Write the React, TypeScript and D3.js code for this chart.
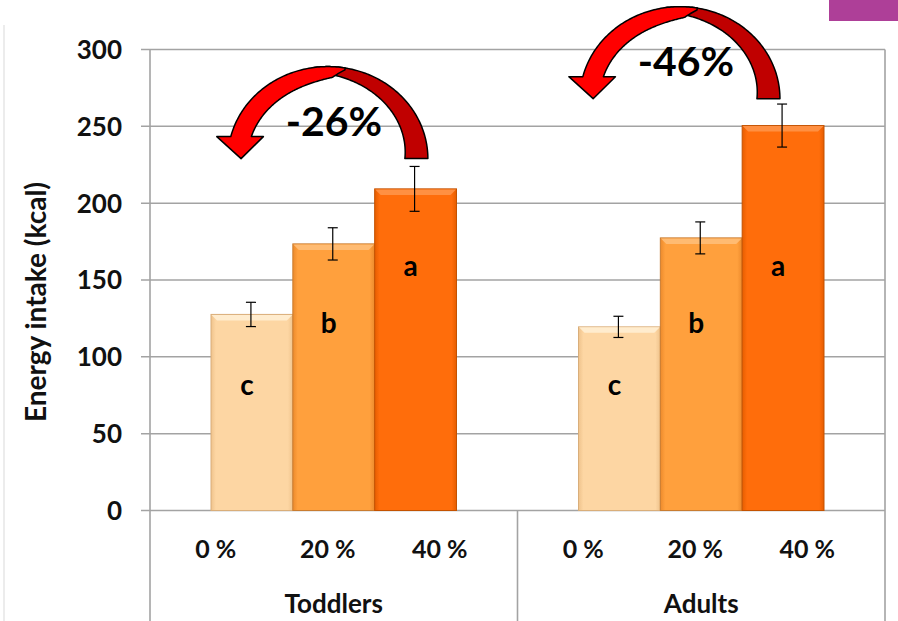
import React from "react";
import * as d3 from "d3";

const groups = ["Toddlers", "Adults"];
const levels = ["0 %", "20 %", "40 %"];
const toddlerValues = [127.6, 173.5, 209.3];
const adultValues = [119.5, 177.4, 250.5];
const toddlerErrors = [7.9, 10.5, 14.6];
const adultErrors = [6.9, 10.4, 14.0];
const sigLetters = ["c", "b", "a"];
const letterValues = [75, 115.5, 152.5];
const yTicks = [0, 50, 100, 150, 200, 250, 300];
const changeLabels = ["-26%", "-46%"];
const arrowBaseValues = [229, 268];
const arrowCenterFractions = [0.484, 0.442];

const W = 898;
const H = 621;
const FONT = "Lato, 'Open Sans', 'DejaVu Sans', sans-serif";

const levelColors = [
  { base: "#FDD6A3", edge: "#EFC38C", top: "#FFEED3", stroke: "#D9AE7A" },
  { base: "#FFA03D", edge: "#EC8A2C", top: "#FFBE78", stroke: "#C97C30" },
  { base: "#FF6D0B", edge: "#E65D00", top: "#FF9448", stroke: "#C45200" },
];

const y = d3.scaleLinear().domain([0, 300]).range([510.5, 49.5]);
const x0 = d3.scaleBand().domain(groups).range([150, 885]);
const x1 = d3.scaleBand().domain(levels).range([61, x0.bandwidth() - 61]);
const xl = d3.scalePoint().domain(levels).range([-112, 112]);

const valuesFor = (gi: number) => (gi === 0 ? toddlerValues : adultValues);
const errorsFor = (gi: number) => (gi === 0 ? toddlerErrors : adultErrors);

function arrowPaths(cx: number, cy: number) {
  const Rx = 100;
  const Ry = 92;
  const rad = Math.PI / 180;
  const line = d3.line();
  // back (dark) half
  const darkTh = (p: number) => 23 * Math.pow(Math.max(0, 1 - p / 102), 0.55);
  const dOuter: [number, number][] = [];
  const dInner: [number, number][] = [];
  for (let p = 0; p <= 98; p += 1) {
    const c = Math.cos(p * rad);
    const s = Math.sin(p * rad);
    const t = darkTh(p);
    dOuter.push([cx + Rx * c, cy - Ry * s]);
    dInner.push([cx + (Rx - t) * c, cy - (Ry - t) * s]);
  }
  const dark = line([...dOuter, ...dInner.reverse()]) + "Z";

  // front (red) half with head
  const redTh = (p: number) => Math.max(2, 20 - 9 * Math.exp(-(p - 88) / 22));
  const baseY = cy - 22;
  const rOuter: [number, number][] = [];
  for (let p = 80; p <= 180; p += 1) {
    const yy = cy - Ry * Math.sin(p * rad);
    if (yy >= baseY) break;
    rOuter.push([cx + Rx * Math.cos(p * rad), yy]);
  }
  const oEndX = cx - Rx * Math.sqrt(1 - Math.pow(22 / Ry, 2));
  rOuter.push([oEndX, baseY]);
  const rInner: [number, number][] = [];
  let iEndX = oEndX + 20;
  for (let p = 80; p <= 180; p += 0.5) {
    const t = p < 87 ? 2 + (redTh(87) - 2) * ((p - 80) / 7) : redTh(p);
    const yy = cy - (Ry - t) * Math.sin(p * rad);
    if (yy >= baseY) {
      const s = 22 / (Ry - t);
      iEndX = cx - (Rx - t) * Math.sqrt(1 - s * s);
      break;
    }
    rInner.push([cx + (Rx - t) * Math.cos(p * rad), yy]);
  }
  const head: [number, number][] = [
    [oEndX - 14, baseY],
    [(oEndX + iEndX) / 2, cy],
    [iEndX + 12, baseY],
    [iEndX, baseY],
  ];
  const red = line([...rOuter, ...head, ...rInner.reverse()]) + "Z";
  return { dark, red };
}

export default function App() {
  const bw = x1.bandwidth();
  return (
    <div style={{ position: "fixed", left: 0, top: 0, width: W, height: H, background: "#fff" }}>
      <svg width={W} height={H} style={{ display: "block" }} fontFamily={FONT}>
        <defs>
          {levelColors.map((c, i) => (
            <linearGradient key={i} id={`barGrad${i}`} x1="0" x2="1" y1="0" y2="0">
              <stop offset="0" stopColor={c.edge} />
              <stop offset="0.06" stopColor={c.base} />
              <stop offset="0.94" stopColor={c.base} />
              <stop offset="1" stopColor={c.edge} />
            </linearGradient>
          ))}
        </defs>
        <rect x={0} y={0} width={W} height={H} fill="#fff" />
        {/* decorations */}
        <line x1={4} x2={4} y1={25} y2={H} stroke="#ECECEC" strokeWidth={2} />
        <rect x={829} y={0} width={69} height={21} fill="#AE3F98" />

        {/* gridlines */}
        {yTicks.map((t) => (
          <line key={t} x1={141} x2={885} y1={y(t)} y2={y(t)} stroke="#A3A3A3" strokeWidth={1.5} />
        ))}
        {/* frame & category dividers */}
        <line x1={150} x2={150} y1={y(300)} y2={H} stroke="#A3A3A3" strokeWidth={1.6} />
        <line x1={885} x2={885} y1={y(300)} y2={H} stroke="#A3A3A3" strokeWidth={1.6} />
        <line x1={x0("Adults")!} x2={x0("Adults")!} y1={y(0)} y2={H} stroke="#A3A3A3" strokeWidth={1.6} />

        {/* bars */}
        {groups.map((g, gi) =>
          levels.map((l, li) => {
            const v = valuesFor(gi)[li];
            const bx = x0(g)! + x1(l)!;
            const by = y(v);
            const bh = y(0) - by;
            const c = levelColors[li];
            return (
              <g key={`${g}-${l}`}>
                <rect x={bx} y={by} width={bw} height={bh} fill={`url(#barGrad${li})`} stroke={c.stroke} strokeWidth={1} />
                <polygon
                  points={`${bx + 0.5},${by + 0.5} ${bx + bw - 0.5},${by + 0.5} ${bx + bw - 6},${by + 6} ${bx + 6},${by + 6}`}
                  fill={c.top}
                  opacity={0.9}
                />
              </g>
            );
          })
        )}

        {/* error bars */}
        {groups.map((g, gi) =>
          levels.map((l, li) => {
            const v = valuesFor(gi)[li];
            const e = errorsFor(gi)[li];
            const cx = x0(g)! + x1(l)! + bw / 2 - 1;
            return (
              <g key={`e-${g}-${l}`} stroke="#000" strokeWidth={1.2}>
                <line x1={cx} x2={cx} y1={y(v + e)} y2={y(v - e)} />
                <line x1={cx - 5} x2={cx + 5} y1={y(v + e)} y2={y(v + e)} />
                <line x1={cx - 5} x2={cx + 5} y1={y(v - e)} y2={y(v - e)} />
              </g>
            );
          })
        )}

        {/* significance letters */}
        {groups.map((g) =>
          levels.map((l, li) => (
            <text
              key={`s-${g}-${l}`}
              x={x0(g)! + x1(l)! + bw / 2 - 5}
              y={y(letterValues[li])}
              textAnchor="middle"
              fontWeight={700}
              fontSize={28}
              fill="#000"
            >
              {sigLetters[li]}
            </text>
          ))
        )}

        {/* arrows */}
        {groups.map((g, gi) => {
          const cx = x0(g)! + arrowCenterFractions[gi] * x0.bandwidth();
          const cy = y(arrowBaseValues[gi]);
          const p = arrowPaths(cx, cy);
          return (
            <g key={`a-${g}`}>
              <path d={p.dark} fill="#C00000" stroke="#000" strokeWidth={1.5} strokeLinejoin="round" />
              <path d={p.red} fill="#FF0000" stroke="#000" strokeWidth={1.5} strokeLinejoin="round" />
              <text x={cx + 6} y={cy - 22.5} textAnchor="middle" fontWeight={700} fontSize={41} fill="#000">
                {changeLabels[gi]}
              </text>
            </g>
          );
        })}

        {/* y tick labels */}
        {yTicks.map((t) => (
          <text key={`t-${t}`} x={122} y={y(t)} dy="0.36em" textAnchor="end" fontWeight={700} fontSize={26} fill="#111">
            {t}
          </text>
        ))}
        {/* y title */}
        <text
          transform="translate(46,302) rotate(-90)"
          textAnchor="middle"
          fontWeight={700}
          fontSize={28}
          fill="#111"
        >
          Energy intake (kcal)
        </text>

        {/* x labels */}
        {groups.map((g) =>
          levels.map((l) => (
            <text
              key={`x-${g}-${l}`}
              x={x0(g)! + x0.bandwidth() / 2 + xl(l)! - 6}
              y={558}
              textAnchor="middle"
              fontWeight={700}
              fontSize={25}
              fill="#111"
            >
              {l}
            </text>
          ))
        )}
        {groups.map((g) => (
          <text
            key={`g-${g}`}
            x={x0(g)! + x0.bandwidth() / 2}
            y={613}
            textAnchor="middle"
            fontWeight={700}
            fontSize={26}
            fill="#111"
          >
            {g}
          </text>
        ))}
      </svg>
    </div>
  );
}
